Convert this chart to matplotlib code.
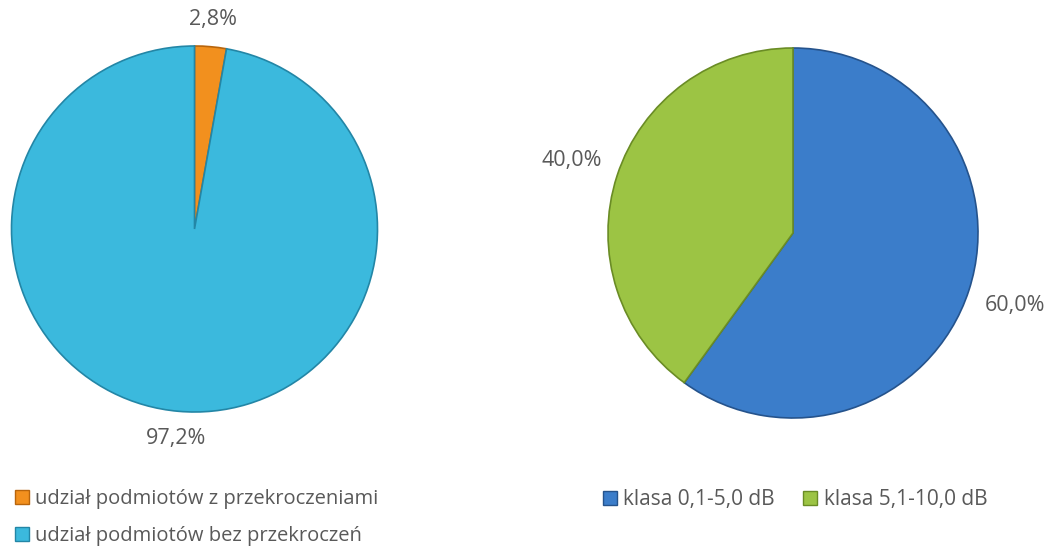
import matplotlib.pyplot as plt
from matplotlib.lines import Line2D

plt.rcParams['font.family'] = ['Open Sans', 'DejaVu Sans']

# left pie
left_labels = ['udział podmiotów z przekroczeniami', 'udział podmiotów bez przekroczeń']
left_values = [2.8, 97.2]
left_colors = ['#F2901E', '#3BB9DD']
left_edges = ['#B8650C', '#2386A6']

# right pie
right_labels = ['klasa 0,1-5,0 dB', 'klasa 5,1-10,0 dB']
right_values = [60.0, 40.0]
right_colors = ['#3B7DCA', '#9CC444']
right_edges = ['#25538C', '#6A8C25']

text_col = '#595959'
W, H = 1051, 550


def pct_fmt(p):
    return '{:.1f}%'.format(p).replace('.', ',')


def draw_pie(rect, values, colors, edges, pdist):
    ax = fig.add_axes(rect)
    wedges, _, autotexts = ax.pie(values, colors=colors, startangle=90, counterclock=False,
                                  autopct=pct_fmt, pctdistance=pdist,
                                  wedgeprops=dict(linewidth=1.2))
    for w, ec in zip(wedges, edges):
        w.set_edgecolor(ec)
    for t in autotexts:
        t.set_color(text_col)
        t.set_fontsize(15.5)
    ax.set_xlim(-1, 1)
    ax.set_ylim(-1, 1)
    ax.set_aspect('equal')
    ax.axis('off')
    return ax


fig = plt.figure(figsize=(W / 100, H / 100), dpi=100)

draw_pie([11 / W, (H - 412) / H, 367 / W, 366 / H], left_values, left_colors, left_edges, 1.15)
draw_pie([608 / W, (H - 418) / H, 370 / W, 370 / H], right_values, right_colors, right_edges, 1.26)


def handles(colors, edges):
    return [Line2D([], [], marker='s', linestyle='none', markersize=10,
                   markerfacecolor=c, markeredgecolor=e) for c, e in zip(colors, edges)]


leg1 = fig.legend(handles(left_colors, left_edges), left_labels, loc='upper left',
                  bbox_to_anchor=(4 / W, 1 - 479 / H), frameon=False, ncol=1, borderpad=0,
                  fontsize=14.5, handlelength=0.8, handletextpad=0.25, labelspacing=0.85,
                  labelcolor=text_col)
leg2 = fig.legend(handles(right_colors, right_edges), right_labels, loc='upper left',
                  bbox_to_anchor=(591 / W, 1 - 479 / H), frameon=False, ncol=2, borderpad=0,
                  fontsize=15, handlelength=0.8, handletextpad=0.25, columnspacing=1.3,
                  labelcolor=text_col)

fig.savefig('out.png', dpi=100, facecolor='white')
